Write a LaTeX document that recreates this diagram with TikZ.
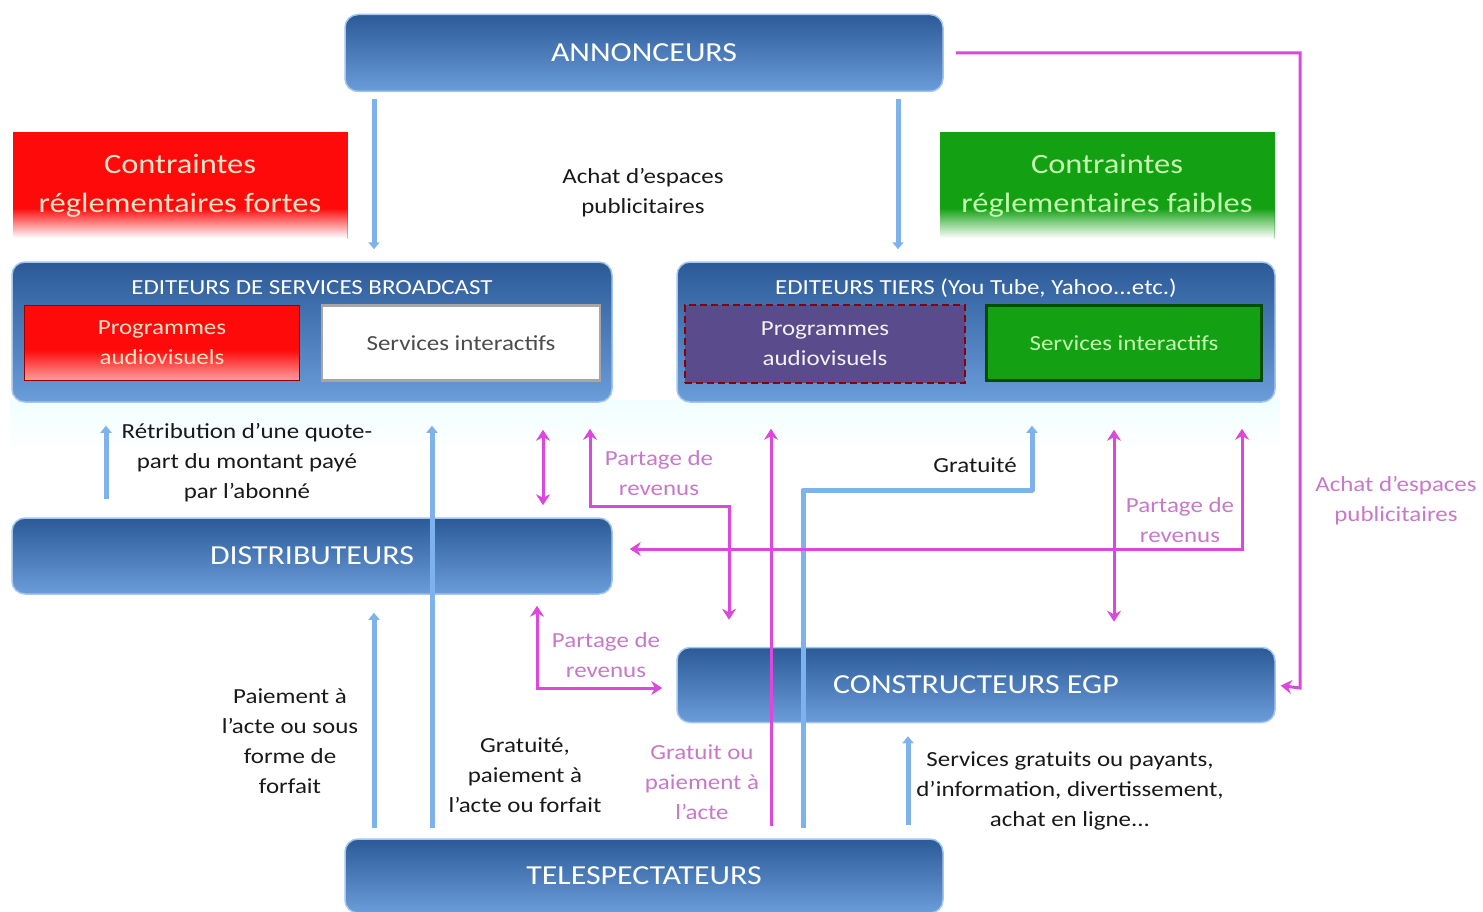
\documentclass[tikz,border=0pt]{standalone}
\usepackage{fontspec}
\setmainfont{Carlito}[FakeStretch=1.16]
\usetikzlibrary{arrows.meta}
\definecolor{boxtop}{HTML}{2B5A97}
\definecolor{boxbot}{HTML}{6B9DDA}
\definecolor{boxedge}{HTML}{A2C6EE}
\definecolor{arrblue}{HTML}{7EB2EC}
\definecolor{mag}{HTML}{DC48DC}
\definecolor{magtxt}{HTML}{C878C8}
\definecolor{redc}{HTML}{FF0A0A}
\definecolor{greenc}{HTML}{13A013}
\definecolor{purp}{HTML}{5A4C8C}
\definecolor{peach}{HTML}{FFE2C8}
\definecolor{lgreen}{HTML}{C4FAB0}
\begin{document}
\begin{tikzpicture}[x=1pt,y=-1pt,
  bigbox/.style={rounded corners=13, draw=boxedge, line width=1.5, top color=boxtop, bottom color=boxbot, text=white, font=\fontsize{27.5}{30}\selectfont},
  titletxt/.style={text=white, font=\fontsize{21.5}{26}\selectfont},
  fadefill/.style 2 args={fill=#1,
     path picture={\foreach \i in {0,...,29} {\fill[#1!\fpeval{round(#2+\i*(100-#2)/30)}!white] ([yshift=\i pt]path picture bounding box.south west) rectangle ([yshift=\i pt+1.3pt]path picture bounding box.south east);}}},
  constr/.style={align=center, font=\fontsize{28}{39}\selectfont},
  inbox/.style={align=center, font=\fontsize{21.5}{30}\selectfont},
  lbl/.style={align=center, text=black!90, font=\fontsize{21.5}{30}\selectfont},
  mlbl/.style={align=center, text=magtxt, font=\fontsize{21.5}{30}\selectfont},
  bluearr/.style={draw=arrblue, line width=5, -{Triangle[length=7pt,width=11pt]}},
  magarr/.style={draw=mag, line width=3, -{Stealth[length=11pt,width=14pt]}},
  magdbl/.style={draw=mag, line width=3, {Stealth[length=11pt,width=14pt]}-{Stealth[length=11pt,width=14pt]}}
]
\useasboundingbox (0,0) rectangle (1483,912);
% faint halo under editeurs
\shade[top color=blue!4!cyan!6, bottom color=white] (10,400) rectangle (1280,450);

% boxes
\node[bigbox, minimum width=598, minimum height=77] (ann) at (644,53) {ANNONCEURS};
\node[constr, fadefill={redc}{0}, text=peach, minimum width=335, minimum height=107] (cf) at (180,186) {Contraintes\\réglementaires fortes};
\node[constr, fadefill={greenc}{0}, text=lgreen, minimum width=335, minimum height=107] (cw) at (1107,186) {Contraintes\\réglementaires faibles};

\node[bigbox, minimum width=600, minimum height=140] (edb) at (312,332) {};
\node[titletxt] (edbt) at (312,288) {EDITEURS DE SERVICES BROADCAST};
\node[inbox, fadefill={redc}{40}, text=peach, draw=red!60!black, line width=1.5, minimum width=275, minimum height=75] (pa1) at (162,343) {Programmes\\audiovisuels};
\node[inbox, text=black!70, fill=white, draw=black!35, line width=2.5, minimum width=278, minimum height=75] (si1) at (461,343) {Services interactifs};

\node[bigbox, minimum width=598, minimum height=140] (edt) at (976,332) {};
\node[titletxt] (edtt) at (976,288) {EDITEURS TIERS (You Tube, Yahoo...etc.)};
\node[inbox, text=white!92!purp, fill=purp, draw=red!55!black, dash pattern=on 7pt off 4pt, line width=2, minimum width=280, minimum height=78] (pa2) at (825,344) {Programmes\\audiovisuels};
\node[inbox, text=lgreen, fill=greenc, draw=green!30!black, line width=2.5, minimum width=275, minimum height=75] (si2) at (1124,343) {Services interactifs};

\node[bigbox, minimum width=600, minimum height=76] (dist) at (312,556) {DISTRIBUTEURS};
\node[bigbox, minimum width=598, minimum height=75] (cons) at (976,685) {CONSTRUCTEURS EGP};
\node[bigbox, minimum width=598, minimum height=74] (tel) at (644,876) {TELESPECTATEURS};

% labels
\node[lbl] (l1) at (643,193) {Achat d’espaces\\publicitaires};
\node[lbl] (l2) at (247,463) {Rétribution d’une quote-\\part du montant payé\\par l’abonné};
\node[lbl] (l3) at (290,741) {Paiement à\\l’acte ou sous\\forme de\\forfait};
\node[lbl] (l4) at (525,775) {Gratuité,\\paiement à\\l’acte ou forfait};
\node[mlbl] (l5) at (702,782) {Gratuit ou\\paiement à\\l’acte};
\node[lbl] (l6) at (1070,791) {Services gratuits ou payants,\\d’information, divertissement,\\achat en ligne...};
\node[lbl] (l7) at (975,465) {Gratuité};
\node[mlbl] (l8) at (659,473) {Partage de\\revenus};
\node[mlbl] (l9) at (1180,520) {Partage de\\revenus};
\node[mlbl] (l10) at (606,655) {Partage de\\revenus};
\node[mlbl] (l11) at (1396,501) {Achat d’espaces\\publicitaires};

% coordinates for bends
\coordinate (m1a) at (590,506);
\coordinate (m1b) at (729,506);
\coordinate (m2a) at (1242,549);
\coordinate (m3a) at (537,688);
\coordinate (m4a) at (1300,53);
\coordinate (m4b) at (1300,688);
\coordinate (b1) at (803,490);
\coordinate (b2) at (1032,490);

% blue arrows
\draw[bluearr, shorten <=7pt, shorten >=12pt] (ann.south -| 374,0) -- (edb.north -| 374,0);
\draw[bluearr, shorten <=7pt, shorten >=12pt] (ann.south -| 898,0) -- (edt.north -| 898,0);
\draw[bluearr, shorten <=18pt, shorten >=23pt] (dist.north -| 106,0) -- (edb.south -| 106,0);
\draw[bluearr, shorten <=10pt, shorten >=23pt] (tel.north -| 432,0) -- (edb.south -| 432,0);
\draw[bluearr, shorten <=10pt, shorten >=18pt] (tel.north -| 374,0) -- (dist.south -| 374,0);
\draw[bluearr, line join=round, shorten <=10pt, shorten >=23pt] (tel.north -| b1) -- (b1) -- (b2) -- (edt.south -| b2);
\draw[bluearr, shorten <=13pt, shorten >=13pt] (tel.north -| 908,0) -- (cons.south -| 908,0);

% magenta arrows
\draw[magarr, shorten <=12pt, shorten >=5pt] (ann.east) -- (m4a) -- (m4b) -- (cons.east);
\draw[magdbl, shorten <=27pt, shorten >=12pt] (edb.south -| 543,0) -- (dist.north -| 543,0);
\draw[magdbl, shorten <=26pt, shorten >=27pt] (edb.south -| m1a) -- (m1a) -- (m1b) -- (cons.north -| m1b);
\draw[magarr, shorten <=12pt, shorten >=26pt] (tel.north -| 771,0) -- (edt.south -| 771,0);
\draw[magdbl, shorten <=26pt, shorten >=17pt] (edt.south -| m2a) -- (m2a) -- (dist.east |- m2a);
\draw[magdbl, shorten <=27pt, shorten >=25pt] (edt.south -| 1114,0) -- (cons.north -| 1114,0);
\draw[magdbl, shorten <=11pt, shorten >=14pt] (dist.south -| m3a) -- (m3a) -- (cons.west |- m3a);
\end{tikzpicture}
\end{document}
